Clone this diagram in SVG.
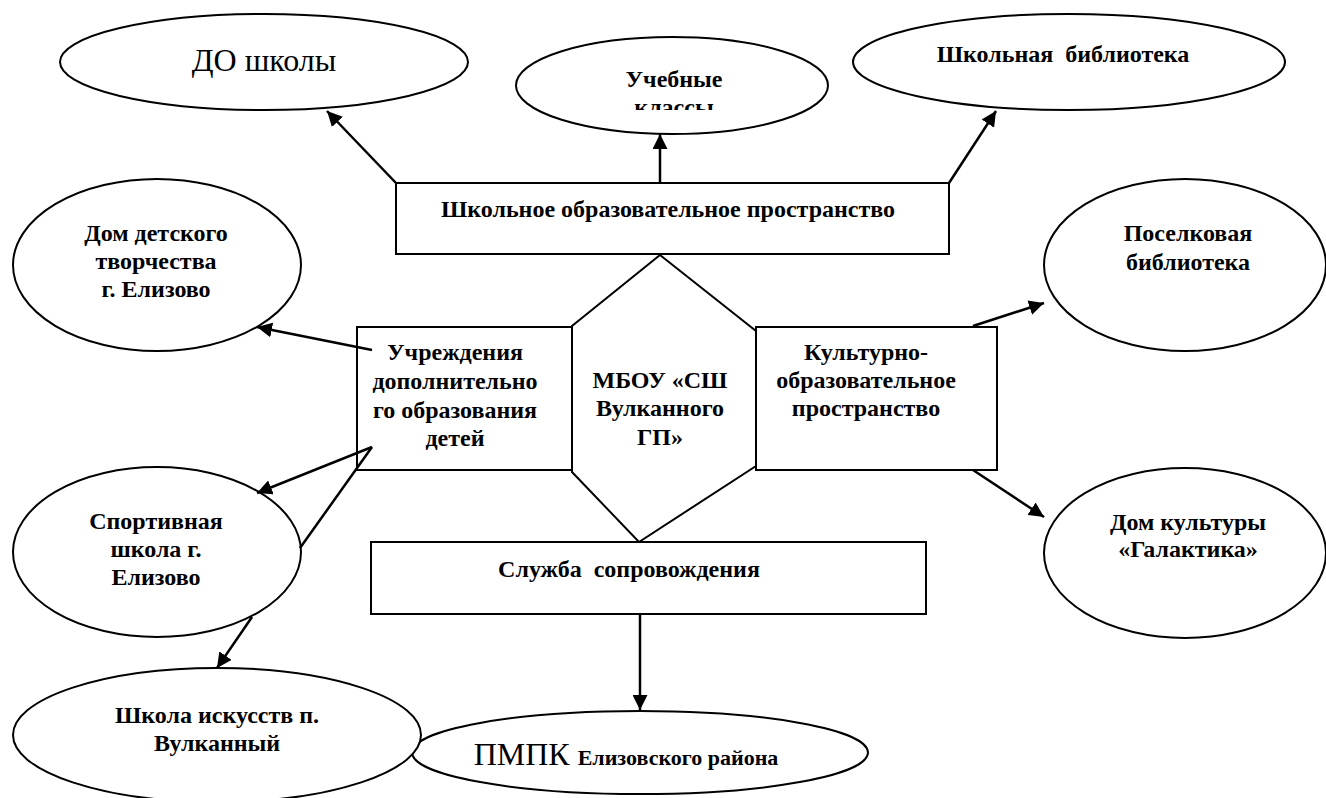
<svg xmlns="http://www.w3.org/2000/svg" width="1326" height="798" viewBox="0 0 1326 798">
<style>
.shape{fill:#fff;stroke:#000;stroke-width:2}
.conn{fill:none;stroke:#000;stroke-width:2.5}
</style>
<defs>
<marker id="ah" viewBox="0 0 10 10" refX="10" refY="5" markerWidth="6" markerHeight="6" markerUnits="strokeWidth" orient="auto">
<path d="M0,0 L10,5 L0,10 z" fill="#000"/>
</marker>
<clipPath id="clipU"><rect x="500" y="30" width="340" height="80"/></clipPath>
</defs>
<rect width="1326" height="798" fill="#fff"/>

<g id="node-do">
<ellipse class="shape" cx="264" cy="62" rx="204" ry="48"/>
<text x="264" y="71" font-family="Liberation Serif" font-size="32" text-anchor="middle">ДО школы</text>
</g>
<g id="node-uchebnye">
<ellipse class="shape" cx="672" cy="85.5" rx="156" ry="48.5"/>
<g clip-path="url(#clipU)" font-family="Liberation Serif" font-weight="bold" font-size="24" text-anchor="middle">
<text x="674" y="87">Учебные</text>
<text x="674" y="115">классы</text>
</g>
</g>
<g id="node-shkbib" font-family="Liberation Serif" font-weight="bold" font-size="24" text-anchor="middle">
<ellipse class="shape" cx="1069" cy="62" rx="216" ry="48"/>
<text x="1063" y="62">Школьная&#160; библиотека</text>
</g>
<g id="node-shkprostr" font-family="Liberation Serif" font-weight="bold" font-size="24" text-anchor="middle">
<rect class="shape" x="396" y="183" width="553" height="71"/>
<text x="668" y="217">Школьное образовательное пространство</text>
</g>
<g id="node-ddt" font-family="Liberation Serif" font-weight="bold" font-size="24" text-anchor="middle">
<ellipse class="shape" cx="157" cy="265" rx="144" ry="86"/>
<text x="156" y="241">Дом детского</text>
<text x="156" y="269">творчества</text>
<text x="156" y="297">г. Елизово</text>
</g>
<g id="node-pos" font-family="Liberation Serif" font-weight="bold" font-size="24" text-anchor="middle">
<ellipse class="shape" cx="1185" cy="265" rx="141" ry="86"/>
<text x="1188" y="241">Поселковая</text>
<text x="1188" y="270">библиотека</text>
</g>
<g id="node-uchr" font-family="Liberation Serif" font-weight="bold" font-size="24" text-anchor="middle">
<rect class="shape" x="357" y="327" width="215" height="143"/>
<text x="455" y="360">Учреждения</text>
<text x="455" y="389">дополнительно</text>
<text x="455" y="418">го образования</text>
<text x="455" y="446">детей</text>
</g>
<g id="node-kult" font-family="Liberation Serif" font-weight="bold" font-size="24" text-anchor="middle">
<rect class="shape" x="756" y="327" width="241" height="143"/>
<text x="866" y="360">Культурно-</text>
<text x="866" y="388">образовательное</text>
<text x="866" y="416">пространство</text>
</g>
<g id="node-mbou" font-family="Liberation Serif" font-weight="bold" font-size="24" text-anchor="middle">
<polygon class="shape" points="660,255 756,331 756,466 639,542 572,472 572,326"/>
<text x="660" y="388">МБОУ «СШ</text>
<text x="660" y="416">Вулканного</text>
<text x="660" y="445">ГП»</text>
</g>
<g id="node-sport" font-family="Liberation Serif" font-weight="bold" font-size="24" text-anchor="middle">
<ellipse class="shape" cx="157" cy="552" rx="144" ry="85"/>
<text x="156" y="529">Спортивная</text>
<text x="156" y="557">школа г.</text>
<text x="156" y="585">Елизово</text>
</g>
<g id="node-dk" font-family="Liberation Serif" font-weight="bold" font-size="24" text-anchor="middle">
<ellipse class="shape" cx="1185" cy="553" rx="141" ry="85"/>
<text x="1188" y="530">Дом культуры</text>
<text x="1188" y="557">«Галактика»</text>
</g>
<g id="node-sluzhba" font-family="Liberation Serif" font-weight="bold" font-size="24" text-anchor="middle">
<rect class="shape" x="371" y="542" width="555" height="72"/>
<text x="629" y="577">Служба&#160; сопровождения</text>
</g>
<g id="node-pmpk">
<ellipse class="shape" cx="640" cy="752.5" rx="228" ry="41.5"/>
<text x="626" y="765" font-family="Liberation Serif" text-anchor="middle"><tspan font-size="32">ПМПК </tspan><tspan font-size="22" font-weight="bold">Елизовского района</tspan></text>
</g>
<g id="node-shkisk" font-family="Liberation Serif" font-weight="bold" font-size="24" text-anchor="middle">
<ellipse class="shape" cx="217" cy="735" rx="204" ry="67"/>
<text x="217" y="723">Школа искусств п.</text>
<text x="217" y="751">Вулканный</text>
</g>

<g id="connectors">
<line class="conn" x1="396" y1="183" x2="327" y2="111" marker-end="url(#ah)"/>
<line class="conn" x1="660" y1="183" x2="660" y2="134" marker-end="url(#ah)"/>
<line class="conn" x1="949" y1="183" x2="996" y2="111" marker-end="url(#ah)"/>
<line class="conn" x1="372" y1="350" x2="257" y2="327" marker-end="url(#ah)"/>
<line class="conn" x1="372" y1="447" x2="257" y2="493" marker-end="url(#ah)"/>
<line class="conn" x1="372" y1="447" x2="300" y2="548"/>
<line class="conn" x1="252" y1="617" x2="217" y2="668" marker-end="url(#ah)"/>
<line class="conn" x1="973" y1="326" x2="1044" y2="303" marker-end="url(#ah)"/>
<line class="conn" x1="973" y1="470" x2="1044" y2="517" marker-end="url(#ah)"/>
<line class="conn" x1="640" y1="614" x2="640" y2="710" marker-end="url(#ah)"/>
</g>
</svg>
